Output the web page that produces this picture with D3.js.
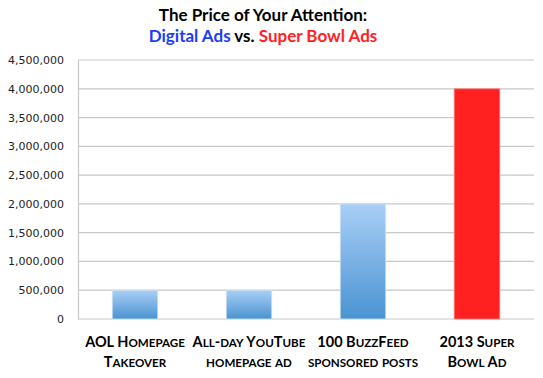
<!DOCTYPE html>
<html><head><meta charset="utf-8">
<script src="https://cdn.jsdelivr.net/npm/d3@7"></script>
<style>body{margin:0;background:#fff}svg{display:block}</style>
</head><body>
<svg id="c" width="543" height="378"></svg>
<script>
const categories = ["AOL Homepage|Takeover","All-day YouTube|homepage ad","100 BuzzFeed|sponsored posts","2013 Super|Bowl Ad"];
const values = [500000, 500000, 2000000, 4000000];
const kinds = ["digital","digital","digital","superbowl"];
const tickValues = [0,500000,1000000,1500000,2000000,2500000,3000000,3500000,4000000,4500000];

const svg = d3.select("#c");
const m = {l:78, r:534, t:60, b:319};
const x = d3.scaleBand().domain(categories).range([m.l, m.r]).paddingInner(0.6).paddingOuter(0.3);
const y = d3.scaleLinear().domain([0, 4500000]).range([m.b, m.t]);

const defs = svg.append("defs");
const g = defs.append("linearGradient").attr("id","blueGrad").attr("x1",0).attr("y1",0).attr("x2",0).attr("y2",1);
g.append("stop").attr("offset","0%").attr("stop-color","#a9cff6");
g.append("stop").attr("offset","100%").attr("stop-color","#4a93d2");

// title
const tf = "Lato, 'Open Sans', sans-serif";
svg.append("text").attr("text-anchor","middle").attr("font-family",tf).attr("font-weight","bold").attr("font-size",17)
  .attr("x",263).attr("y",21).attr("fill","#000").text("The Price of Your Attention:");
const t2 = svg.append("text").attr("text-anchor","middle").attr("font-family",tf).attr("font-weight","bold").attr("font-size",17).attr("x",263).attr("y",42);
t2.append("tspan").attr("fill","#1a3dfa").text("Digital Ads");
t2.append("tspan").attr("fill","#000").text(" vs. ");
t2.append("tspan").attr("fill","#ff2222").text("Super Bowl Ads");

// gridlines
svg.append("g").selectAll("line").data(tickValues.filter(d=>d>0)).join("line")
  .attr("x1",m.l).attr("x2",m.r).attr("y1",d=>y(d)).attr("y2",d=>y(d))
  .attr("stroke","#c8c8c8").attr("stroke-width",1.2);

// y axis
const ya = svg.append("g").attr("transform",`translate(${m.l},0)`)
  .call(d3.axisLeft(y).tickValues(tickValues).tickFormat(d3.format(",")).tickSize(0).tickPadding(14));
ya.select(".domain").attr("stroke","#c8c8c8").attr("stroke-width",1.2);
ya.selectAll("text").attr("font-family","'DejaVu Sans', Verdana, sans-serif").attr("font-size",11).attr("fill","#222");

// baseline
svg.append("line").attr("x1",m.l).attr("x2",m.r).attr("y1",y(0)).attr("y2",y(0)).attr("stroke","#c8c8c8").attr("stroke-width",1.2);

// bars
svg.append("g").selectAll("rect").data(values).join("rect")
  .attr("x",(d,i)=>x(categories[i])).attr("width",x.bandwidth())
  .attr("y",d=>y(d)).attr("height",d=>y(0)-y(d))
  .attr("fill",(d,i)=>kinds[i]==="digital"?"url(#blueGrad)":"#ff2020")
  .attr("stroke",(d,i)=>kinds[i]==="digital"?"#d6e6f7":"#ff8080").attr("stroke-width",0.8);

// category labels, manual small caps
function runs(s){
  const out=[]; let cur=null;
  for(const ch of s){
    const small = ch !== ch.toUpperCase() || (ch===ch.toUpperCase() && ch!==ch.toLowerCase() ? false : false);
    const isLower = ch !== ch.toUpperCase();
    if(!cur || cur.small!==isLower){ cur={small:isLower,t:""}; out.push(cur); }
    cur.t += ch.toUpperCase();
  }
  return out;
}
const big = 14.5, small = 11.6;
categories.forEach(d=>{
  const cx = x(d)+x.bandwidth()/2;
  d.split("|").forEach((p,j)=>{
    const t = svg.append("text").attr("text-anchor","middle").attr("font-family",tf).attr("font-weight","bold")
      .attr("fill","#000").attr("x",cx).attr("y",347+j*20).attr("font-size",big);
    runs(p).forEach(r=>t.append("tspan").attr("font-size",r.small?small:big).text(r.t));
  });
});
</script>
</body></html>
